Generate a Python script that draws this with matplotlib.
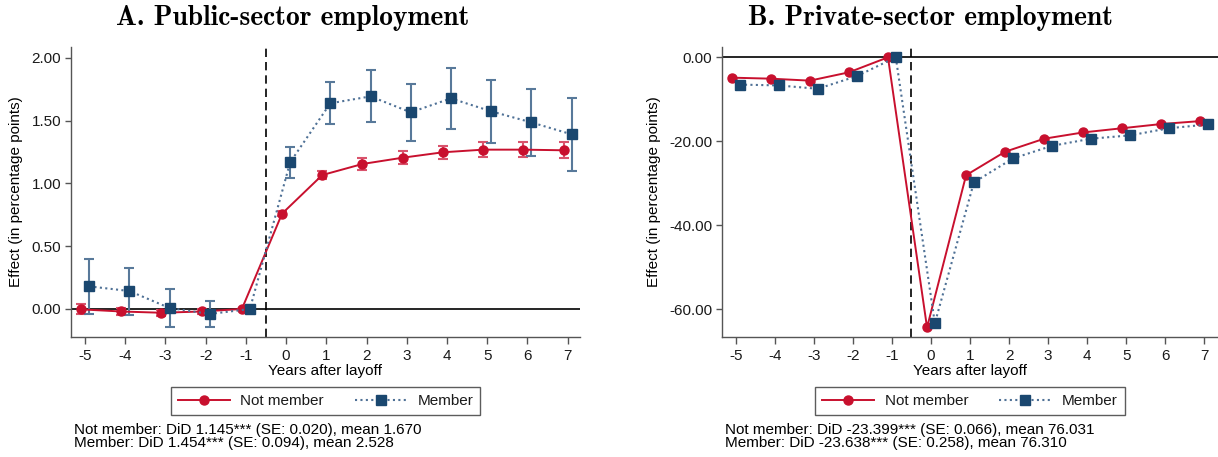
import matplotlib
matplotlib.use('Agg')
import matplotlib.pyplot as plt
from matplotlib.lines import Line2D
import numpy as np

plt.rcParams['font.family'] = ['Liberation Sans', 'DejaVu Sans']
plt.rcParams['axes.unicode_minus'] = False

# # data
years = [-5, -4, -3, -2, -1, 0, 1, 2, 3, 4, 5, 6, 7]

pub_notmember = [-0.003, -0.02, -0.03, -0.02, 0.0, 0.759, 1.066, 1.154, 1.204, 1.247, 1.268, 1.268, 1.263]
pub_notmember_err = [0.04, 0.03, 0.025, 0.02, 0.0, 0.02, 0.03, 0.045, 0.05, 0.053, 0.057, 0.057, 0.062]
pub_member = [0.18, 0.143, 0.008, -0.04, 0.0, 1.167, 1.637, 1.692, 1.565, 1.676, 1.573, 1.485, 1.39]
pub_member_err = [0.22, 0.187, 0.152, 0.104, 0.0, 0.123, 0.168, 0.206, 0.228, 0.244, 0.252, 0.264, 0.29]

priv_notmember = [-4.85, -5.09, -5.56, -3.58, 0.0, -64.4, -28.1, -22.5, -19.4, -17.9, -16.9, -15.9, -15.2]
priv_member = [-6.5, -6.7, -7.5, -4.5, 0.0, -63.4, -29.8, -24.1, -21.1, -19.4, -18.6, -16.9, -16.0]

pub_yticks = [0, 0.5, 1.0, 1.5, 2.0]
priv_yticks = [0, -20, -40, -60]

titles = ['A. Public-sector employment', 'B. Private-sector employment']
notes = [['Not member: DiD 1.145*** (SE: 0.020), mean 1.670',
          'Member: DiD 1.454*** (SE: 0.094), mean 2.528'],
         ['Not member: DiD -23.399*** (SE: 0.066), mean 76.031',
          'Member: DiD -23.638*** (SE: 0.258), mean 76.310']]

# # styles
red = '#c8102e'
red_err = '#d9536c'
navy = '#1a476f'
navy_line = '#4f7196'
navy_err = '#58799a'
spine_col = '#555555'

fig = plt.figure(figsize=(12.18, 4.57), dpi=100)
ax1 = fig.add_axes([71/1218, 1-337/457, 509/1218, 290/457])
ax2 = fig.add_axes([722/1218, 1-337/457, 496/1218, 290/457])

x = np.array(years)


def style_axes(ax, xlim, ylim, yticks):
    ax.set_xlim(*xlim)
    ax.set_ylim(*ylim)
    ax.set_xticks(years)
    ax.set_xticklabels([str(y) for y in years])
    ax.set_yticks(yticks)
    ax.set_yticklabels(['%.2f' % t for t in yticks])
    for s in ['top', 'right']:
        ax.spines[s].set_visible(False)
    for s in ['left', 'bottom']:
        ax.spines[s].set_color(spine_col)
        ax.spines[s].set_linewidth(1.0)
    ax.tick_params(direction='out', length=4, width=1, color=spine_col,
                   labelsize=11, labelcolor='#1a1a1a', pad=3)
    ax.tick_params(axis='x', length=5, pad=4)
    ax.axhline(0, color='black', lw=1.2, zorder=1)
    ax.axvline(-0.5, color='black', lw=1.2, ls=(0, (5, 3)), zorder=1)
    ax.set_xlabel('Years after layoff', fontsize=11, labelpad=0)
    ax.set_ylabel('Effect (in percentage points)', fontsize=11, labelpad=6)


# # panel A
ax1.errorbar(x - 0.1, pub_notmember, yerr=pub_notmember_err, fmt='none',
             ecolor=red_err, elinewidth=1.5, capsize=3.5, capthick=1.5, zorder=2)
ax1.errorbar(x + 0.1, pub_member, yerr=pub_member_err, fmt='none',
             ecolor=navy_err, elinewidth=1.5, capsize=3.5, capthick=1.5, zorder=2)
ax1.plot(x - 0.1, pub_notmember, color=red, lw=1.4, marker='o', ms=6.5,
         mfc=red, mec=red, zorder=3)
ax1.plot(x + 0.1, pub_member, color=navy_line, lw=1.5, ls=(0, (1, 1.6)),
         marker='s', ms=6.5, mfc=navy, mec=navy, zorder=4)
style_axes(ax1, (-5.35, 7.31), (-0.223, 2.085), pub_yticks)

# # panel B
ax2.plot(x - 0.1, priv_notmember, color=red, lw=1.4, marker='o', ms=6.5,
         mfc=red, mec=red, zorder=3)
ax2.plot(x + 0.1, priv_member, color=navy_line, lw=1.5, ls=(0, (1, 1.6)),
         marker='s', ms=6.5, mfc=navy, mec=navy, zorder=4)
style_axes(ax2, (-5.35, 7.35), (-66.67, 2.46), priv_yticks)

# # titles
fig.text(293/1218, 1-25/457, titles[0], fontfamily='cmb10', fontsize=19.8,
         ha='center', va='baseline')
fig.text(930/1218, 1-25/457, titles[1], fontfamily='cmb10', fontsize=19.8,
         ha='center', va='baseline')

# # legends
handles = [Line2D([], [], color=red, lw=1.4, marker='o', ms=6.5, mfc=red, mec=red),
           Line2D([], [], color=navy_line, lw=1.5, ls=(0, (1, 1.6)), marker='s',
                  ms=6.5, mfc=navy, mec=navy)]
for ax in [ax1, ax2]:
    leg = ax.legend(handles, ['Not member', 'Member'], ncol=2, loc='center',
                    bbox_to_anchor=(0.5, (401 - 337) / -290.0), fontsize=11,
                    frameon=True, fancybox=False, handlelength=3.4,
                    handletextpad=0.7, columnspacing=2.0, borderpad=0.45,
                    borderaxespad=0)
    leg.get_frame().set_edgecolor('#333333')
    leg.get_frame().set_linewidth(1.0)
    leg._legend_box.sep = 0
    for t in leg.get_texts():
        t.set_color('#1a1a1a')

# # notes
for i, x0 in enumerate([74, 725]):
    fig.text(x0/1218, 1-430/457, notes[i][0], fontsize=11, ha='left', va='center')
    fig.text(x0/1218, 1-443.5/457, notes[i][1], fontsize=11, ha='left', va='center')

fig.savefig('out.png', dpi=100)
